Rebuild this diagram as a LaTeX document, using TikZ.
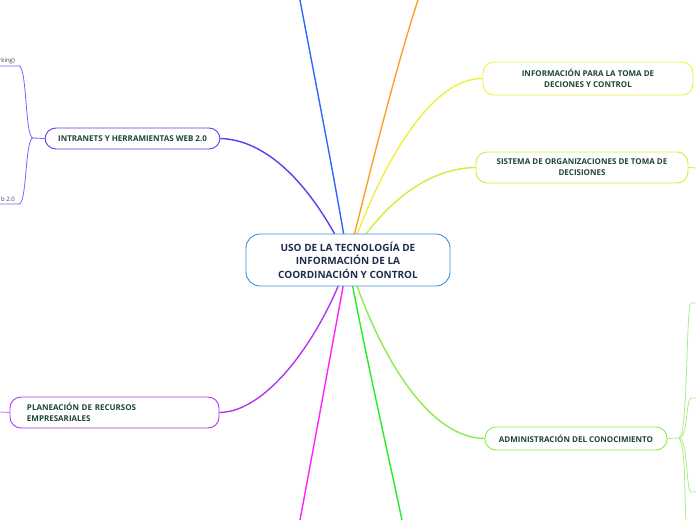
\documentclass[tikz,border=0pt]{standalone}
\usepackage{fontspec}
\setmainfont{Open Sans}
\usetikzlibrary{positioning, backgrounds}

\definecolor{cblue}{HTML}{3A8FD8}
\definecolor{ctext}{HTML}{1E4636}
\definecolor{cnavy}{HTML}{1F2D4D}
\definecolor{lblue}{HTML}{3366FF}
\definecolor{lorange}{HTML}{FF9F2A}
\definecolor{lyellow}{HTML}{F0F03A}
\definecolor{llime}{HTML}{C8F03C}
\definecolor{lgreen}{HTML}{8CEB4A}
\definecolor{lbright}{HTML}{22EE22}
\definecolor{lmagenta}{HTML}{FF22FF}
\definecolor{lpurple}{HTML}{B038F0}
\definecolor{lviolet}{HTML}{5F3BF0}
\definecolor{lchild}{HTML}{7B61FF}
\definecolor{lchildp}{HTML}{C070F0}
\definecolor{lchildg}{HTML}{A8EE80}

\begin{document}
\begin{tikzpicture}[
    x=1pt, y=-1pt,
    line cap=round,
    rootbox/.style={
        draw=cblue,
        fill=white,
        line width=0.9pt,
        rounded corners=14pt,
        minimum width=204pt,
        minimum height=52pt,
        align=center,
        text=cnavy,
        font=\fontsize{10}{13.5}\selectfont\bfseries
    },
    topicbox/.style={
        draw=#1,
        fill=white,
        line width=0.9pt,
        rounded corners=11pt,
        align=center,
        inner sep=0pt,
        text=ctext,
        font=\fontsize{8}{11}\selectfont\bfseries
    },
    branch/.style={line width=1.4pt, draw=#1},
    twig/.style={line width=0.8pt, draw=#1},
    leaf/.style={text=black!75, font=\fontsize{6}{7}\selectfont, inner sep=0pt}
]
    \useasboundingbox (0,0) rectangle (696,520);
    \clip (0,0) rectangle (696,520);

    % central topic
    \node[rootbox] (root) at (348,260) {USO DE LA TECNOLOG\'IA DE\\INFORMACI\'ON DE LA\\COORDINACI\'ON Y CONTROL};

    % main topics
    \node[topicbox=lviolet, minimum width=175pt, minimum height=21pt] (intra) at (132.5,138.5) {INTRANETS Y HERRAMIENTAS WEB 2.0};
    \node[topicbox=lpurple, minimum width=209pt, minimum height=31pt, text width=175pt, align=left] (plan) at (114.5,412.5) {PLANEACI\'ON DE RECURSOS\\EMPRESARIALES};
    \node[topicbox=lyellow, minimum width=210pt, minimum height=33pt] (info) at (588,78.5) {INFORMACI\'ON PARA LA TOMA DE\\DECIONES Y CONTROL};
    \node[topicbox=llime, minimum width=212pt, minimum height=31pt] (sist) at (582,167.5) {SISTEMA DE ORGANIZACIONES DE TOMA DE\\DECISIONES};
    \node[topicbox=lgreen, minimum width=182pt, minimum height=23pt] (admin) at (576,438.5) {ADMINISTRACI\'ON DEL CONOCIMIENTO};

    % cut-off subtopics at the left edge
    \node[leaf, anchor=south east] (net) at (15,64) {rking)};
    \node[leaf, anchor=south east] (web) at (15,202) {b 2.0};

    % off-page ends
    \coordinate (topB) at (300,0);
    \coordinate (topO) at (418,0);
    \coordinate (botM) at (300,520);
    \coordinate (botG) at (402,520);
    \coordinate (netE) at (0,66);
    \coordinate (webE) at (0,204);
    \coordinate (planE) at (0,412);
    \coordinate (sistE) at (696,168);
    \coordinate (intraJ) at (33,138);
    \coordinate (adminJ) at (679,438);
    \coordinate (adm1) at (696,303);
    \coordinate (adm2) at (696,398);
    \coordinate (adm3) at (696,492);
    \coordinate (adm4) at (686,520);

    \begin{scope}[on background layer]
        \draw[branch=lblue] (root.center) .. controls (335,180) and (315,80) .. (topB);
        \draw[branch=lorange] (root.center) .. controls (368,180) and (395,70) .. (topO);
        \draw[branch=lviolet] (root.center) .. controls (315,190) and (270,140) .. (intra.east);
        \draw[branch=lyellow] (root.center) .. controls (378,170) and (430,77) .. (info.west);
        \draw[branch=llime] (root.center) .. controls (385,200) and (430,168) .. (sist.west);
        \draw[branch=lpurple] (root.center) .. controls (325,330) and (270,412) .. (plan.east);
        \draw[branch=lmagenta] (root.center) .. controls (335,330) and (315,440) .. (botM);
        \draw[branch=lbright] (root.center) .. controls (360,330) and (385,440) .. (botG);
        \draw[branch=lgreen] (root.center) .. controls (380,360) and (430,438) .. (admin.west);
    \end{scope}

    % subtopic lines
    \draw[twig=lchild] (intra.west) -- (intraJ) .. controls (25,138) and (27,66) .. (19,66) -- (netE);
    \draw[twig=lchild] (intraJ) .. controls (25,138) and (27,204) .. (19,204) -- (webE);
    \draw[twig=lchildp] (plan.west) -- (planE);
    \draw[twig=llime] (sist.east) -- (sistE);
    \draw[twig=lchildg] (admin.east) -- (adminJ) .. controls (688,438) and (686,303) .. (691,303) -- (adm1);
    \draw[twig=lchildg] (adminJ) .. controls (688,438) and (686,398) .. (691,398) -- (adm2);
    \draw[twig=lchildg] (adminJ) .. controls (688,438) and (686,492) .. (691,492) -- (adm3);
    \draw[twig=lchildg] (adminJ) .. controls (686,450) and (684,490) .. (adm4);
\end{tikzpicture}
\end{document}
